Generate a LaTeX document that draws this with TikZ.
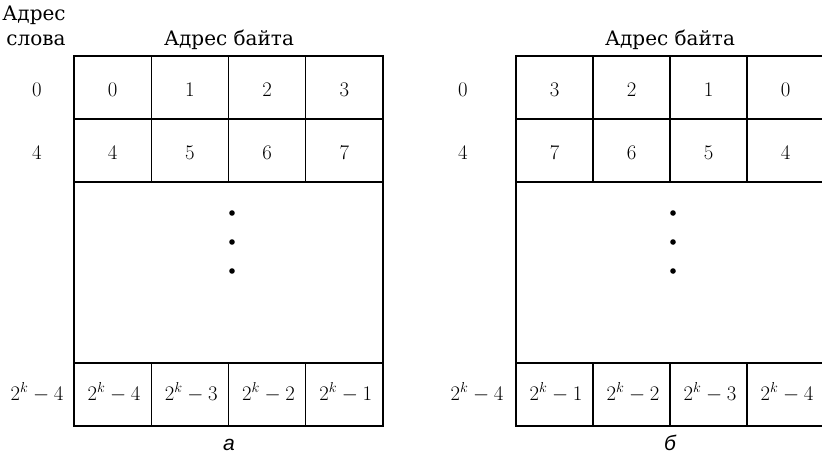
\documentclass[tikz,border=0pt]{standalone}
\usepackage{fontspec}
\newfontfamily\cyrfont{DejaVu Serif}
\newfontfamily\capfont{Liberation Sans}
\newcommand{\tk}[1]{$2^{k}\mskip4mu{-}\mskip4mu #1$}
\begin{document}
\begin{tikzpicture}[x=1pt,y=-1pt,
  grid/.style={line width=1.4pt},
  num/.style={font=\fontsize{22.5}{26}\selectfont, inner sep=0pt, anchor=base},
  lbl/.style={font=\cyrfont\fontsize{20}{24}\selectfont, inner sep=0pt, anchor=base},
  captxt/.style={font=\capfont\itshape\fontsize{21}{24}\selectfont, inner sep=0pt, anchor=base}]
\useasboundingbox (0,0) rectangle (822,467);
\clip (0,0) rectangle (822,467);
% ---------- left grid (a)
\draw[grid] (74,56) rectangle (383,426);
\draw[grid] (74,119) -- (383,119) (74,182) -- (383,182) (74,363) -- (383,363);
\foreach \x in {151.25,228.5,305.75} {
  \draw[grid] (\x,56) -- (\x,182);
  \draw[grid] (\x,363) -- (\x,426);
}
% ---------- right grid (b)
\draw[grid] (824,56) -- (516,56) -- (516,426) -- (824,426);
\draw[grid] (516,119) -- (824,119) (516,182) -- (824,182) (516,363) -- (824,363);
\foreach \x in {593,670,747} {
  \draw[grid] (\x,56) -- (\x,182);
  \draw[grid] (\x,363) -- (\x,426);
}
\draw[grid] (824,56) -- (824,426);
% ---------- headings
\node[lbl] (wa1) at (34,20) {Адрес};
\node[lbl] (wa2) at (36,45) {слова};
\node[lbl] (ba) at (229,45) {Адрес байта};
\node[lbl] (bb) at (670,45) {Адрес байта};
% ---------- word addresses
\node[num] (wl0) at (37,96.5) {$0$};
\node[num] (wl4) at (37,159.5) {$4$};
\node[num] (wlk) at (37,400) {\tk{4}};
\node[num] (wr0) at (463,96.5) {$0$};
\node[num] (wr4) at (463,159.5) {$4$};
\node[num] (wrk) at (477,400) {\tk{4}};
% ---------- left cells
\node[num] (a0) at (112.6,96.5) {$0$};
\node[num] (a1) at (189.9,96.5) {$1$};
\node[num] (a2) at (267.1,96.5) {$2$};
\node[num] (a3) at (344.4,96.5) {$3$};
\node[num] (a4) at (112.6,159.5) {$4$};
\node[num] (a5) at (189.9,159.5) {$5$};
\node[num] (a6) at (267.1,159.5) {$6$};
\node[num] (a7) at (344.4,159.5) {$7$};
\node[num] (ak4) at (114,400) {\tk{4}};
\node[num] (ak3) at (191.3,400) {\tk{3}};
\node[num] (ak2) at (268.5,400) {\tk{2}};
\node[num] (ak1) at (345.8,400) {\tk{1}};
% ---------- right cells
\node[num] (b3) at (554.5,96.5) {$3$};
\node[num] (b2) at (631.5,96.5) {$2$};
\node[num] (b1) at (708.5,96.5) {$1$};
\node[num] (b0) at (785.5,96.5) {$0$};
\node[num] (b7) at (554.5,159.5) {$7$};
\node[num] (b6) at (631.5,159.5) {$6$};
\node[num] (b5) at (708.5,159.5) {$5$};
\node[num] (b4) at (785.5,159.5) {$4$};
\node[num] (bk1) at (556,400) {\tk{1}};
\node[num] (bk2) at (633,400) {\tk{2}};
\node[num] (bk3) at (710,400) {\tk{3}};
\node[num] (bk4) at (787,400) {\tk{4}};
% ---------- dots
\foreach \y in {213,242,271} {
  \fill (232,\y) circle (2.8pt);
  \fill (673,\y) circle (2.8pt);
}
% ---------- captions
\node[captxt] (ca) at (229,450) {а};
\node[captxt] (cb) at (670,450) {б};
\end{tikzpicture}
\end{document}
